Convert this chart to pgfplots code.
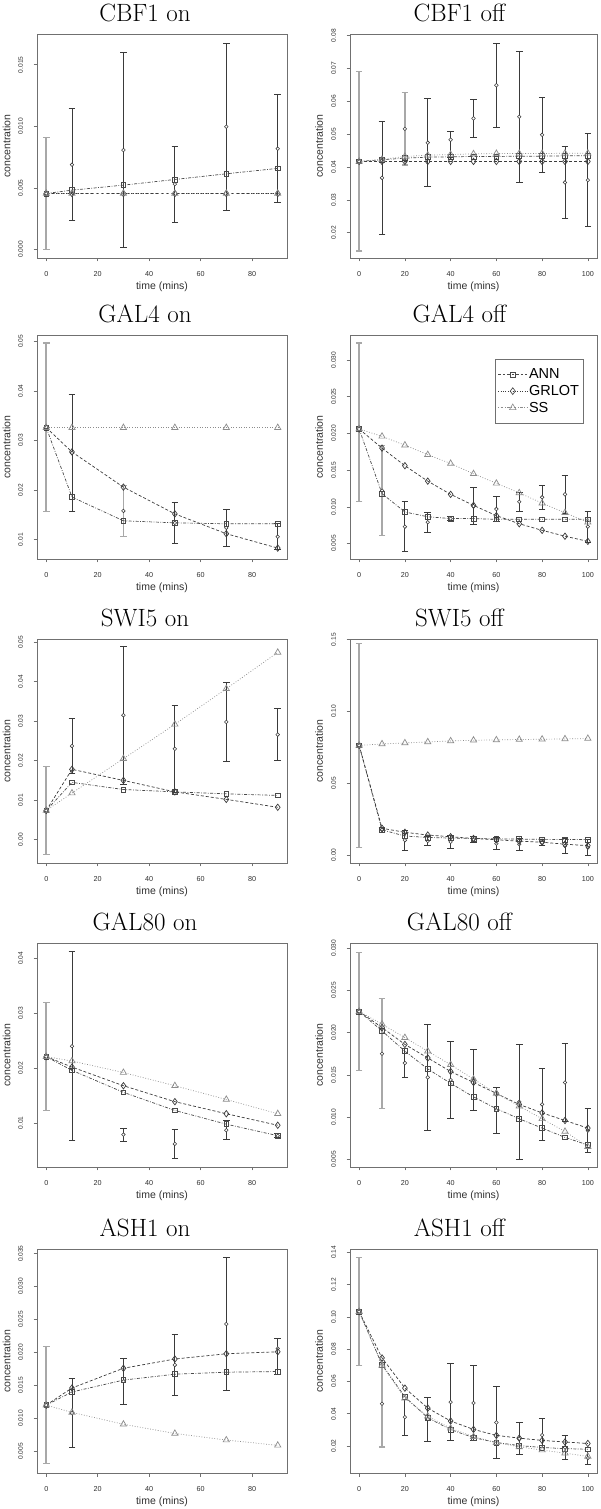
\documentclass[border=0pt]{standalone}
\usepackage{fontspec}
\setsansfont{Liberation Sans}
\usepackage{pgfplots}
\pgfplotsset{compat=1.18}

\definecolor{boxcol}{HTML}{707070}
\definecolor{txtcol}{HTML}{303030}
\definecolor{obscol}{HTML}{3A3A3A}
\definecolor{bargray}{HTML}{A8A8A8}
\definecolor{anncol}{HTML}{4A4A4A}
\definecolor{grlcol}{HTML}{3C3C3C}
\definecolor{sscol}{HTML}{8C8C8C}

\pgfplotsset{
  panel/.style={
    scale only axis, height=224pt, anchor=south west,
    scaled ticks=false,
    axis line style={boxcol, line width=0.9pt},
    tick pos=left, tick align=outside, major tick length=3.5pt,
    tick style={boxcol, line width=0.6pt},
    tick label style={font=\sffamily\fontsize{7.2}{8}\selectfont, text=txtcol},
    xticklabel shift=6pt,
    yticklabel style={rotate=90, anchor=south, font=\sffamily\fontsize{6.6}{7}\selectfont},
    yticklabel shift=7pt,
    xlabel={time (mins)}, ylabel={concentration},
    label style={font=\sffamily\fontsize{10.5}{12}\selectfont, text=txtcol},
    xlabel style={at={(axis description cs:0.5,0)}, anchor=center, yshift=-29pt},
    title style={font=\rmfamily\fontsize{25}{25}\selectfont, anchor=base, yshift=-6pt},
  },
  lp/.style={panel, width=250pt, xmin=-3.6, xmax=93.6,
    xtick={0,20,40,60,80}, xticklabels={0,20,40,60,80},
    ylabel style={at={(axis description cs:-0.122,0.5)}, anchor=center},
    title style={at={(axis description cs:0.432,1.054)}}},
  rp/.style={panel, width=247pt, xmin=-4, xmax=104,
    xtick={0,20,40,60,80,100}, xticklabels={0,20,40,60,80,100},
    ylabel style={at={(axis description cs:-0.125,0.5)}, anchor=center},
    title style={at={(axis description cs:0.443,1.054)}}},
  ann/.style={anncol, line width=0.7pt, dash pattern=on 3pt off 1.5pt on 0.8pt off 1.5pt,
    mark=square, mark size=2.4pt, mark options={solid, line width=0.7pt}},
  grl/.style={grlcol, line width=0.7pt, dash pattern=on 3pt off 2pt,
    mark=diamond, mark size=3.2pt, mark options={solid, line width=0.7pt}},
  ss/.style={sscol, line width=0.7pt, dash pattern=on 0.8pt off 1.8pt,
    mark=triangle, mark size=3.6pt, mark options={solid, line width=0.7pt}},
  obs/.style={only marks, obscol, mark=*, mark size=1.8pt,
    mark options={line width=0.55pt, fill=white, draw=obscol},
    error bars/y dir=both, error bars/y explicit,
    error bars/error bar style={obscol, line width=0.8pt},
    error bars/error mark options={rotate=90, obscol, mark size=3.3pt, line width=0.8pt}},
  obsg/.style={obs,
    error bars/error bar style={bargray, line width=1.6pt},
    error bars/error mark options={rotate=90, bargray, mark size=3.3pt, line width=1.2pt}},
}

\begin{document}
\begin{tikzpicture}
\path[use as bounding box] (0pt,0pt) rectangle (600pt,1509pt);

% ---- row 1
\begin{axis}[lp, at={(37pt,1251pt)}, title={CBF1 on},
  ymin=-0.0007, ymax=0.0175, ytick={0,0.005,0.010,0.015},
  yticklabels={0.000,0.005,0.010,0.015}]
\addplot[obsg] coordinates {(0,0.00454) +- (0,0.00456)};
\addplot[obs] coordinates {(10,0.00688) +- (0,0.00454) (30,0.00807) +- (0,0.00795)
  (50,0.0053) +- (0,0.0031) (70,0.00997) +- (0,0.0068) (90,0.00818) +- (0,0.0044)};
\addplot[ann] coordinates {(0,0.00454)(10,0.00481)(30,0.00522)(50,0.00568)(70,0.00614)(90,0.00658)};
\addplot[grl] coordinates {(0,0.00454)(10,0.00454)(30,0.00454)(50,0.00454)(70,0.00454)(90,0.00454)};
\addplot[ss] coordinates {(0,0.00454)(10,0.00454)(30,0.00454)(50,0.00454)(70,0.00454)(90,0.00454)};
\end{axis}

\begin{axis}[rp, at={(350pt,1251pt)}, title={CBF1 off},
  ymin=0.0123, ymax=0.0805, ytick={0.02,0.03,0.04,0.05,0.06,0.07,0.08},
  yticklabels={0.02,0.03,0.04,0.05,0.06,0.07,0.08}]
\addplot[obsg] coordinates {(0,0.0417) +- (0,0.0273) (20,0.0516) +- (0,0.0110)};
\addplot[obs] coordinates {(10,0.0367) +- (0,0.0171) (30,0.0474) +- (0,0.0134)
  (40,0.0483) += (0,0.0026) -= (0,0.0055) (50,0.0548) +- (0,0.0059) (60,0.0649) +- (0,0.0128)
  (70,0.0553) +- (0,0.0200) (80,0.0498) +- (0,0.0115) (90,0.0353) +- (0,0.0109) (100,0.0360) +- (0,0.0141)};
\addplot[ann] coordinates {(0,0.0417)(10,0.0422)(20,0.0427)(30,0.0430)(40,0.0431)(50,0.0432)(60,0.0432)(70,0.0433)(80,0.0433)(90,0.0434)(100,0.0434)};
\addplot[grl] coordinates {(0,0.0417)(10,0.0417)(20,0.0417)(30,0.0417)(40,0.0417)(50,0.0417)(60,0.0417)(70,0.0417)(80,0.0417)(90,0.0417)(100,0.0417)};
\addplot[ss] coordinates {(0,0.0417)(10,0.0423)(20,0.0432)(30,0.0436)(40,0.0438)(50,0.0440)(60,0.0441)(70,0.0441)(80,0.0441)(90,0.0442)(100,0.0442)};
\end{axis}

% ---- row 2
\begin{axis}[lp, at={(37pt,950pt)}, title={GAL4 on},
  ymin=0.0061, ymax=0.0513, ytick={0.01,0.02,0.03,0.04,0.05},
  yticklabels={0.01,0.02,0.03,0.04,0.05}]
\addplot[obsg] coordinates {(0,0.0327) +- (0,0.0170) (30,0.0158) +- (0,0.0051)};
\addplot[obs] coordinates {(10,0.0275) +- (0,0.0118) (50,0.0134) +- (0,0.0041)
  (70,0.0124) +- (0,0.0037) (90,0.0106) +- (0,0.0026)};
\addplot[ann] coordinates {(0,0.0326)(10,0.0186)(30,0.0138)(50,0.0134)(70,0.0132)(90,0.0132)};
\addplot[grl] coordinates {(0,0.0326)(10,0.0277)(30,0.0206)(50,0.0152)(70,0.0112)(90,0.0083)};
\addplot[ss] coordinates {(0,0.0326)(10,0.0326)(30,0.0326)(50,0.0326)(70,0.0326)(90,0.0326)};
\end{axis}

\begin{axis}[rp, at={(350pt,950pt)}, title={GAL4 off},
  ymin=0.0029, ymax=0.0334, ytick={0.005,0.010,0.015,0.020,0.025,0.030},
  yticklabels={0.005,0.010,0.015,0.020,0.025,0.030},
  legend style={at={(axis description cs:0.947,0.893)}, anchor=north east, draw=boxcol,
    line width=0.8pt, font=\sffamily\fontsize{14.5}{16}\selectfont, text=black,
    legend cell align=left, row sep=2pt, inner xsep=3pt, inner ysep=8pt,
    nodes={inner sep=1.5pt}},
  legend image code/.code={\draw[mark repeat=2,mark phase=2,#1] plot coordinates {(0pt,0pt)(14.5pt,0pt)(29pt,0pt)};}]
\addlegendimage{anncol, line width=0.6pt, dash pattern=on 2.5pt off 2pt, mark=square, mark size=2.6pt, mark options={solid}}
\addlegendentry{ANN}
\addlegendimage{grlcol, line width=0.6pt, dash pattern=on 0.8pt off 1.6pt, mark=diamond, mark size=3.4pt, mark options={solid}}
\addlegendentry{GRLOT}
\addlegendimage{sscol, line width=0.6pt, dash pattern=on 0.8pt off 1.6pt on 2.5pt off 1.6pt, mark=triangle, mark size=3.8pt, mark options={solid}}
\addlegendentry{SS}
\addplot[obsg] coordinates {(0,0.0206) += (0,0.0117) -= (0,0.0099) (10,0.0122) +- (0,0.0061)};
\addplot[obs] coordinates {(20,0.0073) +- (0,0.0034) (30,0.0079) +- (0,0.0014) (40,0.0084) +- (0,0.0003)
  (50,0.0101) +- (0,0.0025) (60,0.0097) +- (0,0.0017) (70,0.0107) +- (0,0.0013) (80,0.0113) +- (0,0.0016)
  (90,0.0117) +- (0,0.0026) (100,0.0073) +- (0,0.0021)};
\addplot[ann] coordinates {(0,0.0206)(10,0.0118)(20,0.0093)(30,0.00865)(40,0.0084)(50,0.0084)(60,0.0083)(70,0.0083)(80,0.0083)(90,0.0083)(100,0.0083)};
\addplot[grl] coordinates {(0,0.0206)(10,0.0180)(20,0.0156)(30,0.0135)(40,0.0117)(50,0.0102)(60,0.0088)(70,0.0077)(80,0.0068)(90,0.0060)(100,0.0053)};
\addplot[ss] coordinates {(0,0.0206)(10,0.0196)(20,0.0184)(30,0.0171)(40,0.0159)(50,0.0145)(60,0.0132)(70,0.0119)(80,0.0105)(90,0.0092)(100,0.0079)};
\end{axis}

% ---- row 3
\begin{axis}[lp, at={(37pt,646pt)}, title={SWI5 on},
  ymin=-0.0059, ymax=0.0508, ytick={0,0.01,0.02,0.03,0.04,0.05},
  yticklabels={0.00,0.01,0.02,0.03,0.04,0.05}]
\addplot[obsg] coordinates {(0,0.0074) +- (0,0.0112)};
\addplot[obs] coordinates {(10,0.0237) +- (0,0.0070) (30,0.0315) +- (0,0.0174) (50,0.0230) +- (0,0.0110)
  (70,0.0298) +- (0,0.0100) (90,0.0266) +- (0,0.0066)};
\addplot[ann] coordinates {(0,0.0074)(10,0.0145)(30,0.0127)(50,0.0121)(70,0.0116)(90,0.0112)};
\addplot[grl] coordinates {(0,0.0074)(10,0.0178)(30,0.0150)(50,0.0121)(70,0.0102)(90,0.0082)};
\addplot[ss] coordinates {(0,0.0074)(10,0.0118)(30,0.0205)(50,0.0292)(70,0.0382)(90,0.0474)};
\end{axis}

\begin{axis}[rp, at={(350pt,646pt)}, title={SWI5 off},
  ymin=-0.0057, ymax=0.1505, ytick={0,0.05,0.10,0.15},
  yticklabels={0.00,0.05,0.10,0.15}]
\addplot[obsg] coordinates {(0,0.0763) +- (0,0.0710)};
\addplot[obs] coordinates {(10,0.0174) +- (0,0.002) (20,0.0102) +- (0,0.007) (30,0.0097) +- (0,0.003)
  (40,0.0090) +- (0,0.0042) (50,0.0105) +- (0,0.002) (60,0.0078) +- (0,0.004) (70,0.0074) +- (0,0.0041)
  (80,0.0086) +- (0,0.002) (90,0.0062) +- (0,0.0055) (100,0.0050) +- (0,0.0055)};
\addplot[ann] coordinates {(0,0.0763)(10,0.0174)(20,0.0131)(30,0.0121)(40,0.0117)(50,0.0114)(60,0.0112)(70,0.0109)(80,0.0108)(90,0.0107)(100,0.0107)};
\addplot[grl] coordinates {(0,0.0763)(10,0.0185)(20,0.0157)(30,0.0138)(40,0.0126)(50,0.0114)(60,0.0105)(70,0.0095)(80,0.0088)(90,0.0074)(100,0.0064)};
\addplot[ss] coordinates {(0,0.0763)(10,0.0773)(20,0.0780)(30,0.0787)(40,0.0794)(50,0.0799)(60,0.0801)(70,0.0804)(80,0.0806)(90,0.0808)(100,0.0811)};
\end{axis}

% ---- row 4
\begin{axis}[lp, at={(37pt,342pt)}, title={GAL80 on},
  ymin=0.0020, ymax=0.0428, ytick={0.01,0.02,0.03,0.04},
  yticklabels={0.01,0.02,0.03,0.04}]
\addplot[obsg] coordinates {(0,0.0221) +- (0,0.0098)};
\addplot[obs] coordinates {(10,0.0240) +- (0,0.0172) (30,0.0079) +- (0,0.0012) (50,0.0062) +- (0,0.0027)
  (70,0.0087) +- (0,0.0017) (90,0.0077) +- (0,0.0004)};
\addplot[ann] coordinates {(0,0.0221)(10,0.0196)(30,0.0156)(50,0.0123)(70,0.0098)(90,0.0077)};
\addplot[grl] coordinates {(0,0.0221)(10,0.0202)(30,0.0168)(50,0.0139)(70,0.0117)(90,0.0096)};
\addplot[ss] coordinates {(0,0.0221)(10,0.0213)(30,0.0192)(50,0.0168)(70,0.0143)(90,0.0117)};
\end{axis}

\begin{axis}[rp, at={(350pt,342pt)}, title={GAL80 off},
  ymin=0.0041, ymax=0.0306, ytick={0.005,0.010,0.015,0.020,0.025,0.030},
  yticklabels={0.005,0.010,0.015,0.020,0.025,0.030}]
\addplot[obsg] coordinates {(0,0.0225) +- (0,0.0070) (10,0.0175) +- (0,0.0065)};
\addplot[obs] coordinates {(20,0.0164) +- (0,0.0017) (30,0.0147) +- (0,0.0063) (40,0.0144) +- (0,0.0045)
  (50,0.0144) +- (0,0.0036) (60,0.0108) +- (0,0.0027) (70,0.0118) +- (0,0.0068) (80,0.0115) +- (0,0.0043)
  (90,0.0141) +- (0,0.0046) (100,0.0084) +- (0,0.0026)};
\addplot[ann] coordinates {(0,0.0225)(10,0.0202)(20,0.0178)(30,0.0157)(40,0.0140)(50,0.0124)(60,0.0110)(70,0.0098)(80,0.0087)(90,0.0076)(100,0.0067)};
\addplot[grl] coordinates {(0,0.0225)(10,0.0206)(20,0.0186)(30,0.0170)(40,0.0154)(50,0.0141)(60,0.0128)(70,0.0115)(80,0.0105)(90,0.0096)(100,0.0087)};
\addplot[ss] coordinates {(0,0.0225)(10,0.0210)(20,0.0194)(30,0.0178)(40,0.0162)(50,0.0145)(60,0.0128)(70,0.0113)(80,0.0098)(90,0.0083)(100,0.0065)};
\end{axis}

% ---- row 5
\begin{axis}[lp, at={(37pt,36pt)}, title={ASH1 on},
  ymin=0.0017, ymax=0.0357, ytick={0.005,0.010,0.015,0.020,0.025,0.030,0.035},
  yticklabels={0.005,0.010,0.015,0.020,0.025,0.030,0.035}]
\addplot[obsg] coordinates {(0,0.0120) +- (0,0.0089)};
\addplot[obs] coordinates {(10,0.0108) +- (0,0.0052) (30,0.0156) +- (0,0.0035) (50,0.0181) +- (0,0.0046)
  (70,0.0243) +- (0,0.0101) (90,0.0206) += (0,0.0015) -= (0,0.0039)};
\addplot[ann] coordinates {(0,0.0120)(10,0.0140)(30,0.0158)(50,0.0167)(70,0.0170)(90,0.0171)};
\addplot[grl] coordinates {(0,0.0120)(10,0.0146)(30,0.0176)(50,0.0190)(70,0.0198)(90,0.0201)};
\addplot[ss] coordinates {(0,0.0120)(10,0.0109)(30,0.0091)(50,0.0077)(70,0.0067)(90,0.0059)};
\end{axis}

\begin{axis}[rp, at={(350pt,36pt)}, title={ASH1 off},
  ymin=0.0033, ymax=0.1421, ytick={0.02,0.04,0.06,0.08,0.10,0.12,0.14},
  yticklabels={0.02,0.04,0.06,0.08,0.10,0.12,0.14}]
\addplot[obsg] coordinates {(0,0.1033) +- (0,0.0335) (10,0.0462) +- (0,0.0268)};
\addplot[obs] coordinates {(20,0.0379) +- (0,0.0112) (30,0.0367) +- (0,0.0136) (40,0.0472) +- (0,0.0240)
  (50,0.0467) +- (0,0.0230) (60,0.0346) +- (0,0.0225) (70,0.0245) +- (0,0.0099)
  (80,0.0268) += (0,0.0101) -= (0,0.0078) (90,0.0191) +- (0,0.0073) (100,0.0125) +- (0,0.0040)};
\addplot[ann] coordinates {(0,0.1033)(10,0.0705)(20,0.0505)(30,0.0375)(40,0.0302)(50,0.0252)(60,0.0222)(70,0.0203)(80,0.0191)(90,0.0184)(100,0.0180)};
\addplot[grl] coordinates {(0,0.1033)(10,0.0746)(20,0.0559)(30,0.0435)(40,0.0355)(50,0.0303)(60,0.0266)(70,0.0249)(80,0.0235)(90,0.0225)(100,0.0216)};
\addplot[ss] coordinates {(0,0.1033)(10,0.0700)(20,0.0497)(30,0.0385)(40,0.0310)(50,0.0258)(60,0.0221)(70,0.0195)(80,0.0175)(90,0.0156)(100,0.0136)};
\end{axis}

\end{tikzpicture}
\end{document}
